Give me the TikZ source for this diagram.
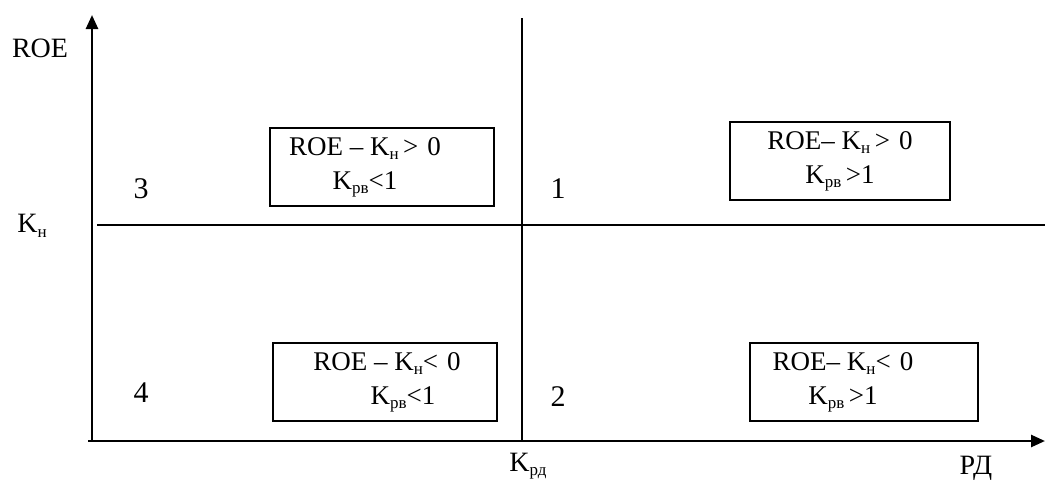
\documentclass[tikz,border=0pt]{standalone}
\usepackage{fontspec}
\setmainfont{Liberation Serif}
\usetikzlibrary{arrows.meta, positioning}

\newcommand{\lowidx}[1]{\raisebox{-0.35ex}{\fontsize{8.5}{9}\selectfont #1}}

\begin{document}
\begin{tikzpicture}[
  x=0.5pt, y=-0.5pt,
  axis/.style={line width=1.3pt, -{Triangle[length=7pt, width=6pt]}},
  divline/.style={line width=1.15pt},
  zonebox/.style={
    draw, line width=1.15pt,
    font=\fontsize{13.5}{17}\selectfont,
    minimum height=39pt, align=center, inner sep=2pt
  },
  lbl/.style={font=\fontsize{14}{16}\selectfont},
  num/.style={font=\fontsize{15}{17}\selectfont}
]
\useasboundingbox (0,0) rectangle (1045,483);

%% Axes
\coordinate (orig) at (92,441);
\coordinate (ytop) at (92,15);
\coordinate (xstart) at (88,441);
\coordinate (xend) at (1045,441);
\draw[axis] (orig) -- (ytop);
\draw[axis] (xstart) -- (xend);

%% Dividing lines
\coordinate (ktop) at (522,18);
\coordinate (kbot) at (522,441);
\coordinate (nleft) at (97,225);
\coordinate (nright) at (1045,225);
\draw[divline] (ktop) -- (kbot);
\draw[divline] (nleft) -- (nright);

%% Axis labels
\node[lbl] (roe) at (40,48) {ROE};
\node[lbl] (kn) at (32,226) {K\lowidx{н}};
\node[lbl] (krd) at (528,466) {K\lowidx{рд}};
\node[lbl] (rd) at (976,468) {РД};

%% Quadrant numbers
\node[num] (q3) at (141,189) {3};
\node[num] (q1) at (558,189) {1};
\node[num] (q4) at (141,393) {4};
\node[num] (q2) at (558,397) {2};

%% Zone boxes
\node[zonebox, minimum width=112pt] (b3) at (382,167)
  {\hspace*{-17pt}ROE – K\lowidx{н}\,>\,\,0\\ \hspace*{-17pt}K\lowidx{рв}<1};
\node[zonebox, minimum width=110pt] (b1) at (840,161)
  {ROE– K\lowidx{н}\,>\,\,0\\ K\lowidx{рв}\,>1};
\node[zonebox, minimum width=112pt] (b4) at (385,382)
  {\hspace*{2pt}ROE – K\lowidx{н}<\,\,0\\ \hspace*{18pt}K\lowidx{рв}<1};
\node[zonebox, minimum width=114pt] (b2) at (864,382)
  {\hspace*{-21pt}ROE– K\lowidx{н}<\,\,0\\ \hspace*{-21pt}K\lowidx{рв}\,>1};

\end{tikzpicture}
\end{document}
